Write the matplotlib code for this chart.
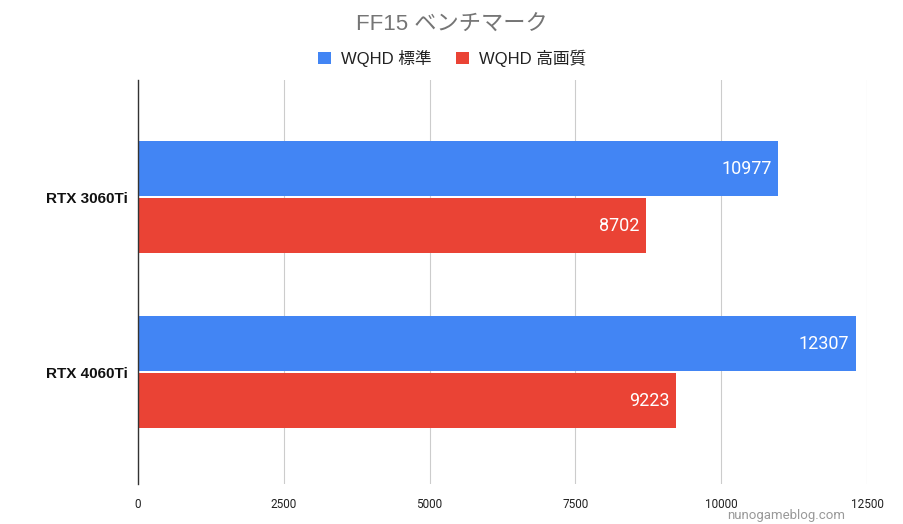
import matplotlib.pyplot as plt
import numpy as np

plt.rcParams['font.family'] = ['Roboto', 'Noto Sans CJK JP', 'DejaVu Sans']

title = "FF15 ベンチマーク"
gpus = ["RTX 3060Ti", "RTX 4060Ti"]
series_names = ["WQHD 標準", "WQHD 高画質"]
standard = [10977, 12307]
high = [8702, 9223]
xticks = [0, 2500, 5000, 7500, 10000, 12500]

blue = "#4285f4"
red = "#ea4335"

fig = plt.figure(figsize=(9.04, 5.24), dpi=100)
ax = fig.add_axes([138 / 904, 1 - 484 / 524, (867 - 138) / 904, (484 - 80) / 524])

y = np.arange(len(gpus))
h = 0.314
off = 0.163
b1 = ax.barh(y - off, standard, height=h, color=blue, label=series_names[0], zorder=3)
b2 = ax.barh(y + off, high, height=h, color=red, label=series_names[1], zorder=3)

for bars, vals in ((b1, standard), (b2, high)):
    for bar, v in zip(bars, vals):
        ax.text(v - 110, bar.get_y() + bar.get_height() / 2, str(v),
                ha="right", va="center", color="white", fontsize=13)

ax.set_xlim(0, 12500)
ax.set_ylim(1.64, -0.67)
ax.set_xticks(xticks)
ax.set_xticklabels([str(t) for t in xticks], fontsize=8.5, color="#222222")
ax.set_yticks(y)
ax.set_yticklabels(gpus, fontsize=11, fontweight="bold", color="#111111",
                   family=["Liberation Sans", "DejaVu Sans"])
ax.tick_params(length=0, pad=7)
ax.tick_params(axis="x", pad=10)
ax.grid(axis="x", color="#cccccc", linewidth=0.8, zorder=0)
for s in ["top", "right", "bottom"]:
    ax.spines[s].set_visible(False)
ax.spines["left"].set_color("#333333")
ax.spines["left"].set_linewidth(1)
ax.spines["left"].set_zorder(4)

fig.text(0.5, 1 - 25 / 524, title, ha="center", va="center", fontsize=16,
         color="#757575", family=["Liberation Sans", "Noto Sans CJK JP"])
fig.legend(handles=[b1, b2], labels=series_names, loc="center",
           bbox_to_anchor=(0.5, 1 - 58 / 524), ncol=2, frameon=False,
           handlelength=0.75, handleheight=0.75,
           handletextpad=0.6, columnspacing=1.5, labelcolor="#222222",
           prop={"family": ["Liberation Sans", "Noto Sans CJK JP"], "size": 12})
fig.text(845 / 904, 1 - 515 / 524, "nunogameblog.com", ha="right", va="center",
         fontsize=9.5, color="#999999")

fig.savefig("out.png", dpi=100)
